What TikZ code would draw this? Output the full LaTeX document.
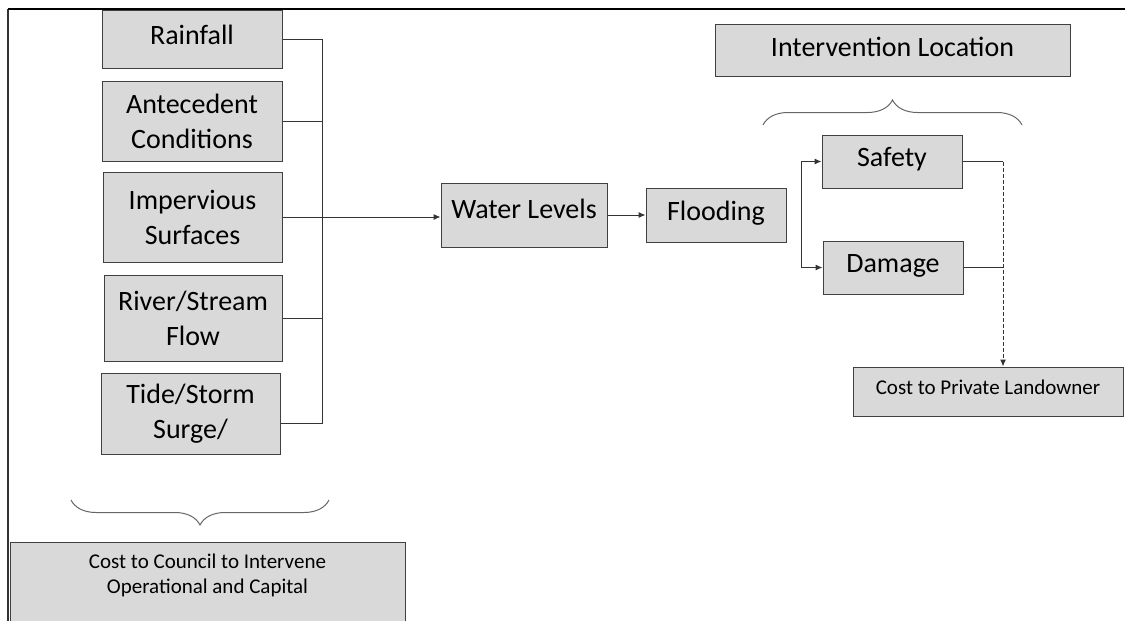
\documentclass[tikz,border=0pt]{standalone}
\usepackage{fontspec}
\setmainfont{Carlito}
\usepackage{tikz}
\usetikzlibrary{calc}
\usetikzlibrary{shapes.geometric, arrows, arrows.meta, positioning, decorations.pathreplacing}

\definecolor{boxgrey}{HTML}{D9D9D9}
\definecolor{edgegrey}{HTML}{404040}

\tikzset{
  box/.style={draw=edgegrey, fill=boxgrey, line width=1pt, inner sep=0pt, align=center, font=\fontsize{28}{35}\selectfont},
  oneline/.style={text height=19pt, text depth=9pt},
  small/.style={font=\fontsize{21}{25}\selectfont},
  link/.style={draw=black!80, line width=1pt},
  arrow/.style={link, -{Latex[length=7pt, width=6pt]}},
  brace/.style={draw=black!60, line width=1pt, decorate, decoration={brace, amplitude=25pt}}
}

\begin{document}
\begin{tikzpicture}[x=1pt, y=-1pt]
\useasboundingbox (0,0) rectangle (1125,621);

% Frame
\draw[line width=1.5pt, draw=black!80] (8,621) -- (8,9);
\draw[line width=2pt] (8,9) -- (1125,9);

% Drivers (left column)
\node[box, oneline, minimum width=180, minimum height=58] (rain) at (192,39) {Rainfall};
\node[box, minimum width=180, minimum height=80] (ante) at (192,121) {Antecedent\\Conditions};
\node[box, minimum width=179, minimum height=90] (imp) at (192.5,217) {Impervious\\Surfaces};
\node[box, minimum width=178, minimum height=86] (river) at (193,318) {River/Stream\\Flow};
\node[box, minimum width=179, minimum height=81] (tide) at (190.5,413.5) {Tide/Storm\\Surge/};

% Chain
\node[box, oneline, text depth=13pt, minimum width=166, minimum height=64] (water) at (524,215) {Water Levels};
\node[box, oneline, minimum width=140, minimum height=54] (flood) at (716,215) {Flooding};
\node[box, oneline, minimum width=140, minimum height=53] (safety) at (892,161.5) {Safety};
\node[box, oneline, minimum width=140, minimum height=53] (damage) at (893,267.5) {Damage};

% Costs and location
\node[box, oneline, text depth=6pt, minimum width=355, minimum height=52] (interv) at (892.5,50) {Intervention Location};
\node[box, small, text height=15pt, text depth=9pt, minimum width=270, minimum height=49] (land) at (988,391.5) {Cost to Private Landowner};
\node[box, small, anchor=north, minimum width=395, inner ysep=11pt, text depth=50pt] (council) at (207.5,542) {Cost to Council to Intervene\\Operational and Capital};

% Braces
\draw[brace, decoration={mirror}] (71,500) -- (329,500);
\draw[brace] (763,125) -- (1022,125);

% Bus from drivers, set at x = 322
\coordinate (bus) at (322,0);
\foreach \n in {rain,ante,imp,river}
{
    \draw[link] (\n.east) -- (\n.east -| bus);
}
\coordinate (tidejoin) at ($(tide.east)+(0,9.5)$);
\draw[link] (rain.east -| bus) -- (tidejoin -| bus) -- (tidejoin);

% Arrows along the chain
\draw[arrow] (imp.east) -- (imp.east -| water.west);
\draw[arrow] (water) -- (flood);
\coordinate (split) at (801,213);
\draw[arrow] (split) |- (safety);
\draw[arrow] (split) |- (damage);

% Outcomes to landowner
\coordinate (drop) at (1003,161.5);
\draw[link] (safety) -- (drop);
\draw[link] (damage) -- (damage -| drop);
\draw[arrow, dash pattern=on 4pt off 2pt] (drop) -- (drop |- land.north);

\end{tikzpicture}
\end{document}
